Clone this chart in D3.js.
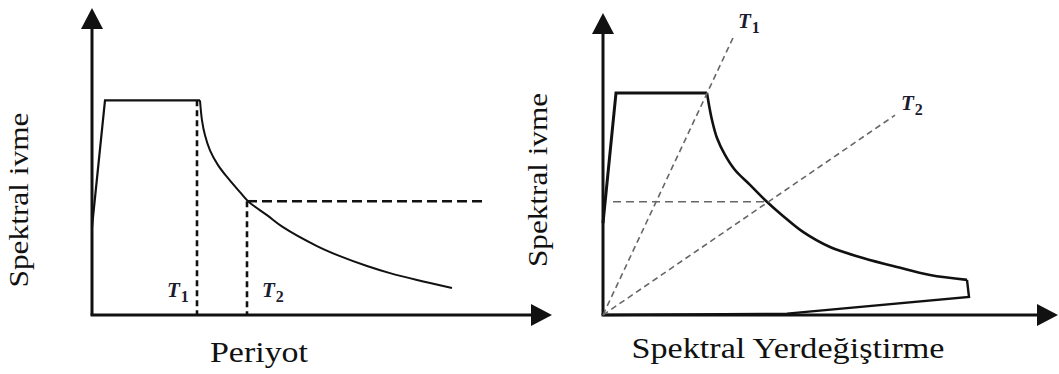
<!DOCTYPE html>
<html><head><meta charset="utf-8">
<script src="https://cdn.jsdelivr.net/npm/d3@7"></script>
<style>html,body{margin:0;padding:0;background:#fff;}svg{display:block;}</style>
</head><body>
<svg id="c" width="1059" height="374"></svg>
<script>
// ---- Left panel data: spectral acceleration vs period ----
const leftPlateauT  = [0, 0.13, 1.08];
const leftPlateauSa = [0.41, 1.0, 1.0];
const leftCurveT  = [1.08, 1.10, 1.13, 1.18, 1.26, 1.36, 1.48, 1.56, 1.75, 1.91, 2.25, 2.48, 2.75, 2.98, 3.25, 3.60];
const leftCurveSa = [1.0, 0.907, 0.837, 0.767, 0.698, 0.637, 0.572, 0.53, 0.465, 0.409, 0.321, 0.274, 0.228, 0.195, 0.163, 0.126];
const periods = [1.05, 1.55];          // T1, T2
const periodSa = 0.53;                 // Sa at T2
const hDashEndT = 3.95;
const periodLabels = ["1", "2"];

// ---- Right panel data: spectral acceleration vs spectral displacement ----
const rightPlateauSd = [0, 0.13, 1.04];
const rightPlateauSa = [0.414, 1.0, 1.0];
const rightCurveSd = [1.04, 1.06, 1.09, 1.14, 1.22, 1.32, 1.47, 1.62, 1.80, 2.00, 2.27, 2.60, 2.94, 3.27, 3.64];
const rightCurveSa = [1.0, 0.946, 0.878, 0.797, 0.721, 0.653, 0.586, 0.518, 0.446, 0.374, 0.306, 0.257, 0.216, 0.18, 0.158];
const rightTailSd = [3.64, 3.66, 1.84, 0];
const rightTailSa = [0.158, 0.081, 0.006, 0];
const radialEndSd = [1.30, 2.92];      // T1, T2 radial line ends
const radialEndSa = [1.248, 0.90];
const rightHDashSd = [0.10, 1.62];
const rightHDashSa = 0.51;

const xTitleLeft = "Periyot";
const xTitleRight = "Spektral Yerdeğiştirme";
const yTitle = "Spektral ivme";

const svg = d3.select("#c");
const FONT = '"Liberation Serif"';

const xL = d3.scaleLinear().domain([0, 4.6]).range([92, 552]);
const yL = d3.scaleLinear().domain([0, 1.43]).range([315, 8]);
const xR = d3.scaleLinear().domain([0, 4.55]).range([603, 1058]);
const yR = d3.scaleLinear().domain([0, 1.36]).range([315, 13]);

function axes(x, y, ah) {
  const x0 = x(0), y0 = y(0), xe = x.range()[1], ye = y.range()[1];
  const g = svg.append("g");
  g.append("line").attr("x1", x0).attr("y1", y0).attr("x2", x0).attr("y2", ye + ah - 2)
    .attr("stroke", "#111").attr("stroke-width", 3);
  g.append("line").attr("x1", x0 - 1.5).attr("y1", y0).attr("x2", xe - ah + 2).attr("y2", y0)
    .attr("stroke", "#111").attr("stroke-width", 3);
  g.append("path").attr("d", `M${x0},${ye} L${x0 - 11},${ye + ah} L${x0 + 11},${ye + ah} Z`).attr("fill", "#111");
  g.append("path").attr("d", `M${xe},${y0} L${xe - ah},${y0 - 11} L${xe - ah},${y0 + 11} Z`).attr("fill", "#111");
}
axes(xL, yL, 21);
axes(xR, yR, 21);

const lin = (x, y) => d3.line().x(d => x(d[0])).y(d => y(d[1]));
const zip = (a, b) => a.map((v, i) => [v, b[i]]);

// Left spectrum
svg.append("path").attr("d", lin(xL, yL)(zip(leftPlateauT, leftPlateauSa)))
  .attr("fill", "none").attr("stroke", "#111").attr("stroke-width", 2.2).attr("stroke-linejoin", "miter");
svg.append("path").attr("d", lin(xL, yL).curve(d3.curveCatmullRom.alpha(0.5))(zip(leftCurveT, leftCurveSa)))
  .attr("fill", "none").attr("stroke", "#111").attr("stroke-width", 2);

// Left dashed lines
svg.append("line").attr("x1", xL(periods[0])).attr("x2", xL(periods[0]))
  .attr("y1", yL(1.0)).attr("y2", yL(0)).attr("stroke", "#111").attr("stroke-width", 2.6).attr("stroke-dasharray", "6,4");
svg.append("line").attr("x1", xL(periods[1])).attr("x2", xL(periods[1]))
  .attr("y1", yL(periodSa)).attr("y2", yL(0)).attr("stroke", "#111").attr("stroke-width", 2.6).attr("stroke-dasharray", "6,4");
svg.append("line").attr("x1", xL(periods[1])).attr("x2", xL(hDashEndT))
  .attr("y1", yL(periodSa)).attr("y2", yL(periodSa)).attr("stroke", "#111").attr("stroke-width", 2.5).attr("stroke-dasharray", "10,5");

// Right spectrum
svg.append("path").attr("d", lin(xR, yR)(zip(rightPlateauSd, rightPlateauSa)))
  .attr("fill", "none").attr("stroke", "#111").attr("stroke-width", 3).attr("stroke-linejoin", "miter");
svg.append("path").attr("d", lin(xR, yR).curve(d3.curveCatmullRom.alpha(0.5))(zip(rightCurveSd, rightCurveSa)))
  .attr("fill", "none").attr("stroke", "#111").attr("stroke-width", 2.6);
svg.append("path").attr("d", lin(xR, yR)(zip(rightTailSd, rightTailSa)))
  .attr("fill", "none").attr("stroke", "#111").attr("stroke-width", 2.4).attr("stroke-linejoin", "miter");

// Right dashed lines
radialEndSd.forEach((sd, i) => {
  svg.append("line").attr("x1", xR(0)).attr("y1", yR(0)).attr("x2", xR(sd)).attr("y2", yR(radialEndSa[i]))
    .attr("stroke", "#666").attr("stroke-width", 1.6).attr("stroke-dasharray", "6,4");
});
svg.append("line").attr("x1", xR(rightHDashSd[0])).attr("x2", xR(rightHDashSd[1]))
  .attr("y1", yR(rightHDashSa)).attr("y2", yR(rightHDashSa))
  .attr("stroke", "#666").attr("stroke-width", 1.6).attr("stroke-dasharray", "8,5");

// T labels
function tLabel(x, y, sub) {
  const t = svg.append("text").attr("x", x).attr("y", y)
    .style("font-family", FONT).style("font-style", "italic").style("font-weight", "bold")
    .style("font-size", "21px").attr("fill", "#1c1c30");
  t.append("tspan").text("T");
  t.append("tspan").attr("dy", 5).attr("dx", 1).style("font-size", "16px").style("font-style", "normal").text(sub);
}
tLabel(xL(periods[0]) - 30, yL(0) - 18, periodLabels[0]);
tLabel(xL(periods[1]) + 15, yL(0) - 18, periodLabels[1]);
tLabel(xR(radialEndSd[0]) + 5, yR(radialEndSa[0]) - 10, periodLabels[0]);
tLabel(xR(radialEndSd[1]) + 6, yR(radialEndSa[1]) - 5, periodLabels[1]);

// Axis titles
function title(sel, size, len, txt) {
  sel.attr("text-anchor", "middle").style("font-family", FONT).style("font-size", size + "px")
    .attr("fill", "#111").attr("textLength", len).attr("lengthAdjust", "spacingAndGlyphs").text(txt);
}
title(svg.append("text").attr("x", 259).attr("y", 362), 30, 98, xTitleLeft);
title(svg.append("text").attr("x", 788).attr("y", 358), 29, 313, xTitleRight);
title(svg.append("text").attr("transform", "translate(28,200) rotate(-90)"), 28, 175, yTitle);
title(svg.append("text").attr("transform", "translate(547,180) rotate(-90)"), 28, 174, yTitle);
</script>
</body></html>
